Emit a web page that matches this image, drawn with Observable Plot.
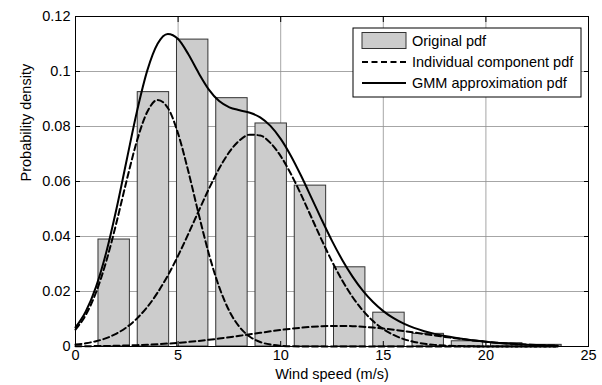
<!DOCTYPE html>
<html><head><meta charset="utf-8">
<script src="https://cdn.jsdelivr.net/npm/d3@7"></script>
<script src="https://cdn.jsdelivr.net/npm/@observablehq/plot@0.6"></script>
<style>body{margin:0;background:#fff} #chart{width:602px;height:385px}</style>
</head><body><div id="chart"></div>
<script>
// ---- data ----
const binCenters = [1.885, 3.798, 5.711, 7.624, 9.537, 11.45, 13.363, 15.276, 17.189, 19.102, 21.015, 22.928];
const binDensity = [0.0389, 0.0925, 0.1116, 0.0903, 0.0811, 0.0585, 0.0288, 0.0123, 0.0046, 0.0019, 0.0012, 0.0006];

const speed = [0,0.5,1,1.5,2,2.5,3,3.5,4,4.5,5,5.5,6,6.5,7,7.5,8,8.5,9,9.5,10,10.5,11,11.5,
               12,12.5,13,13.5,14,14.5,15,15.5,16,16.5,17,17.5,18,18.5,19,19.5,20,20.5,21,21.5,22,22.5,23,23.5];
const comp1 = [0.00617,0.01146,0.01964,0.03102,0.04516,0.0606,0.07493,0.08538,0.08966,0.08678,0.07741,0.06363,
               0.04822,0.03367,0.02166,0.01285,0.00702,0.00354,0.00164,0.0007,0.00028,0.0001,0.00003,0.00001,
               0,0,0,0,0,0,0,0,0,0,0,0,0,0,0,0,0,0,0,0,0,0,0,0];
const comp2 = [0.00069,0.00117,0.00192,0.00305,0.00472,0.00705,0.01023,0.01437,0.01958,0.02583,0.03304,0.04097,
               0.04922,0.05732,0.06469,0.07075,0.07499,0.07704,0.07671,0.07402,0.06922,0.06273,0.05511,0.04691,
               0.0387,0.03094,0.02399,0.01801,0.01311,0.00925,0.00632,0.00419,0.00269,0.00167,0.00101,0.00059,
               0.00033,0.00018,0.0001,0.00005,0.00002,0,0,0,0,0,0,0];
const comp3 = [0.00007,0.0001,0.00015,0.0002,0.00028,0.00037,0.00049,0.00065,0.00084,0.00107,0.00134,0.00166,
               0.00202,0.00244,0.00289,0.00338,0.0039,0.00444,0.00498,0.00551,0.00601,0.00646,0.00684,0.00715,
               0.00737,0.00748,0.00749,0.0074,0.0072,0.00691,0.00654,0.0061,0.00561,0.00509,0.00455,0.00401,
               0.00349,0.00299,0.00252,0.0021,0.00173,0.0014,0.00112,0.00088,0.00068,0.00052,0.00039,0.00029];
const gmm   = [0.00693,0.01273,0.02171,0.03427,0.05016,0.06802,0.08565,0.1004,0.11008,0.11368,0.11179,0.10626,
               0.09946,0.09343,0.08924,0.08698,0.08591,0.08502,0.08333,0.08023,0.07551,0.06929,0.06198,0.05407,
               0.04607,0.03842,0.03148,0.02541,0.02031,0.01616,0.01286,0.01029,0.0083,0.00676,0.00556,0.0046,
               0.00382,0.00317,0.00262,0.00215,0.00175,0.0014,0.00112,0.00088,0.00068,0.00052,0.00039,0.00029];

const xTicks = [0, 5, 10, 15, 20, 25];
const xTickLabels = ["0", "5", "10", "15", "20", "25"];
const yTicks = [0, 0.02, 0.04, 0.06, 0.08, 0.1, 0.12];
const yTickLabels = ["0", "0.02", "0.04", "0.06", "0.08", "0.1", "0.12"];
const xLabel = "Wind speed (m/s)";
const yLabel = "Probability density";
const legendLabels = ["Original pdf", "Individual component pdf", "GMM approximation pdf"];

// ---- tables ----
const binStep = binCenters[1] - binCenters[0];
const bars = binCenters.map((c, i) => ({c, v: binDensity[i]}));
const compRows = [];
[comp1, comp2, comp3].forEach((arr, k) => arr.forEach((v, i) => compRows.push({x: speed[i], y: v, k})));
const gmmRows = gmm.map((v, i) => ({x: speed[i], y: v}));

const FONT = "'Liberation Sans', Arial, Helvetica, sans-serif";
const FS = 14.5;
const gridStyle = {stroke: "#8f8f8f", strokeOpacity: 1, strokeWidth: 0.8};

const chart = Plot.plot({
  width: 602, height: 385,
  marginLeft: 75, marginRight: 14, marginTop: 16, marginBottom: 39,
  style: {fontFamily: FONT, fontSize: FS + "px", background: "#fff", color: "#000", overflow: "visible"},
  x: {domain: [0, 25]},
  y: {domain: [0, 0.12]},
  marks: [
    Plot.gridX(xTicks, gridStyle),
    Plot.gridY(yTicks, gridStyle),
    Plot.rectY(bars, {x1: d => d.c - 0.4 * binStep, x2: d => d.c + 0.4 * binStep, y: "v",
                      fill: "#cccccc", stroke: "#333", strokeWidth: 1}),
    Plot.line(compRows, {x: "x", y: "y", z: "k", stroke: "black", strokeWidth: 2,
                         strokeDasharray: "6,3.5", curve: "monotone-x"}),
    Plot.line(gmmRows, {x: "x", y: "y", stroke: "black", strokeWidth: 2, curve: "monotone-x"}),
    Plot.frame({stroke: "black", strokeWidth: 1}),
    // inward ticks on all four sides
    Plot.axisX(xTicks, {anchor: "bottom", tickSize: 5, dy: -5, tickFormat: () => "", label: null, stroke: "black"}),
    Plot.axisX(xTicks, {anchor: "top", tickSize: 5, dy: 5, tickFormat: () => "", label: null, stroke: "black"}),
    Plot.axisY(yTicks, {anchor: "left", tickSize: 5, dx: 5, tickFormat: () => "", label: null, stroke: "black"}),
    Plot.axisY(yTicks, {anchor: "right", tickSize: 5, dx: -5, tickFormat: () => "", label: null, stroke: "black"}),
    // tick labels
    Plot.axisX(xTicks, {anchor: "bottom", tickSize: 0, tickPadding: 3, label: null, fontSize: FS,
                        tickFormat: d => xTickLabels[xTicks.indexOf(d)], fill: "black"}),
    Plot.axisY(yTicks, {anchor: "left", tickSize: 0, tickPadding: 5, label: null, fontSize: FS,
                        tickFormat: d => yTickLabels[yTicks.indexOf(d)], fill: "black"}),
    Plot.text([xLabel], {frameAnchor: "bottom", lineAnchor: "middle", dy: 28, text: d => d, fill: "black", fontSize: FS}),
    Plot.text([yLabel], {frameAnchor: "left", lineAnchor: "middle", dx: -49, rotate: -90, text: d => d, fill: "black", fontSize: FS})
  ]
});
document.getElementById("chart").appendChild(chart);

// ---- legend (inside the plot area, top right) ----
const svg = d3.select(chart);
const lg = svg.append("g").attr("font-family", FONT).attr("font-size", FS).attr("text-anchor", "start");
lg.append("rect").attr("x", 353).attr("y", 28).attr("width", 228).attr("height", 69)
  .attr("fill", "white").attr("stroke", "black").attr("stroke-width", 1);
lg.append("rect").attr("x", 362).attr("y", 32.5).attr("width", 44).attr("height", 16)
  .attr("fill", "#cccccc").attr("stroke", "#333").attr("stroke-width", 1);
lg.append("line").attr("x1", 362).attr("x2", 406).attr("y1", 62).attr("y2", 62)
  .attr("stroke", "black").attr("stroke-width", 2).attr("stroke-dasharray", "6,3.5");
lg.append("line").attr("x1", 362).attr("x2", 406).attr("y1", 83).attr("y2", 83)
  .attr("stroke", "black").attr("stroke-width", 2);
[40.5, 62, 83].forEach((y, i) => {
  lg.append("text").attr("x", 412).attr("y", y).attr("dy", "0.35em").attr("text-anchor", "start")
    .attr("fill", "black").text(legendLabels[i]);
});
</script>
</body></html>
